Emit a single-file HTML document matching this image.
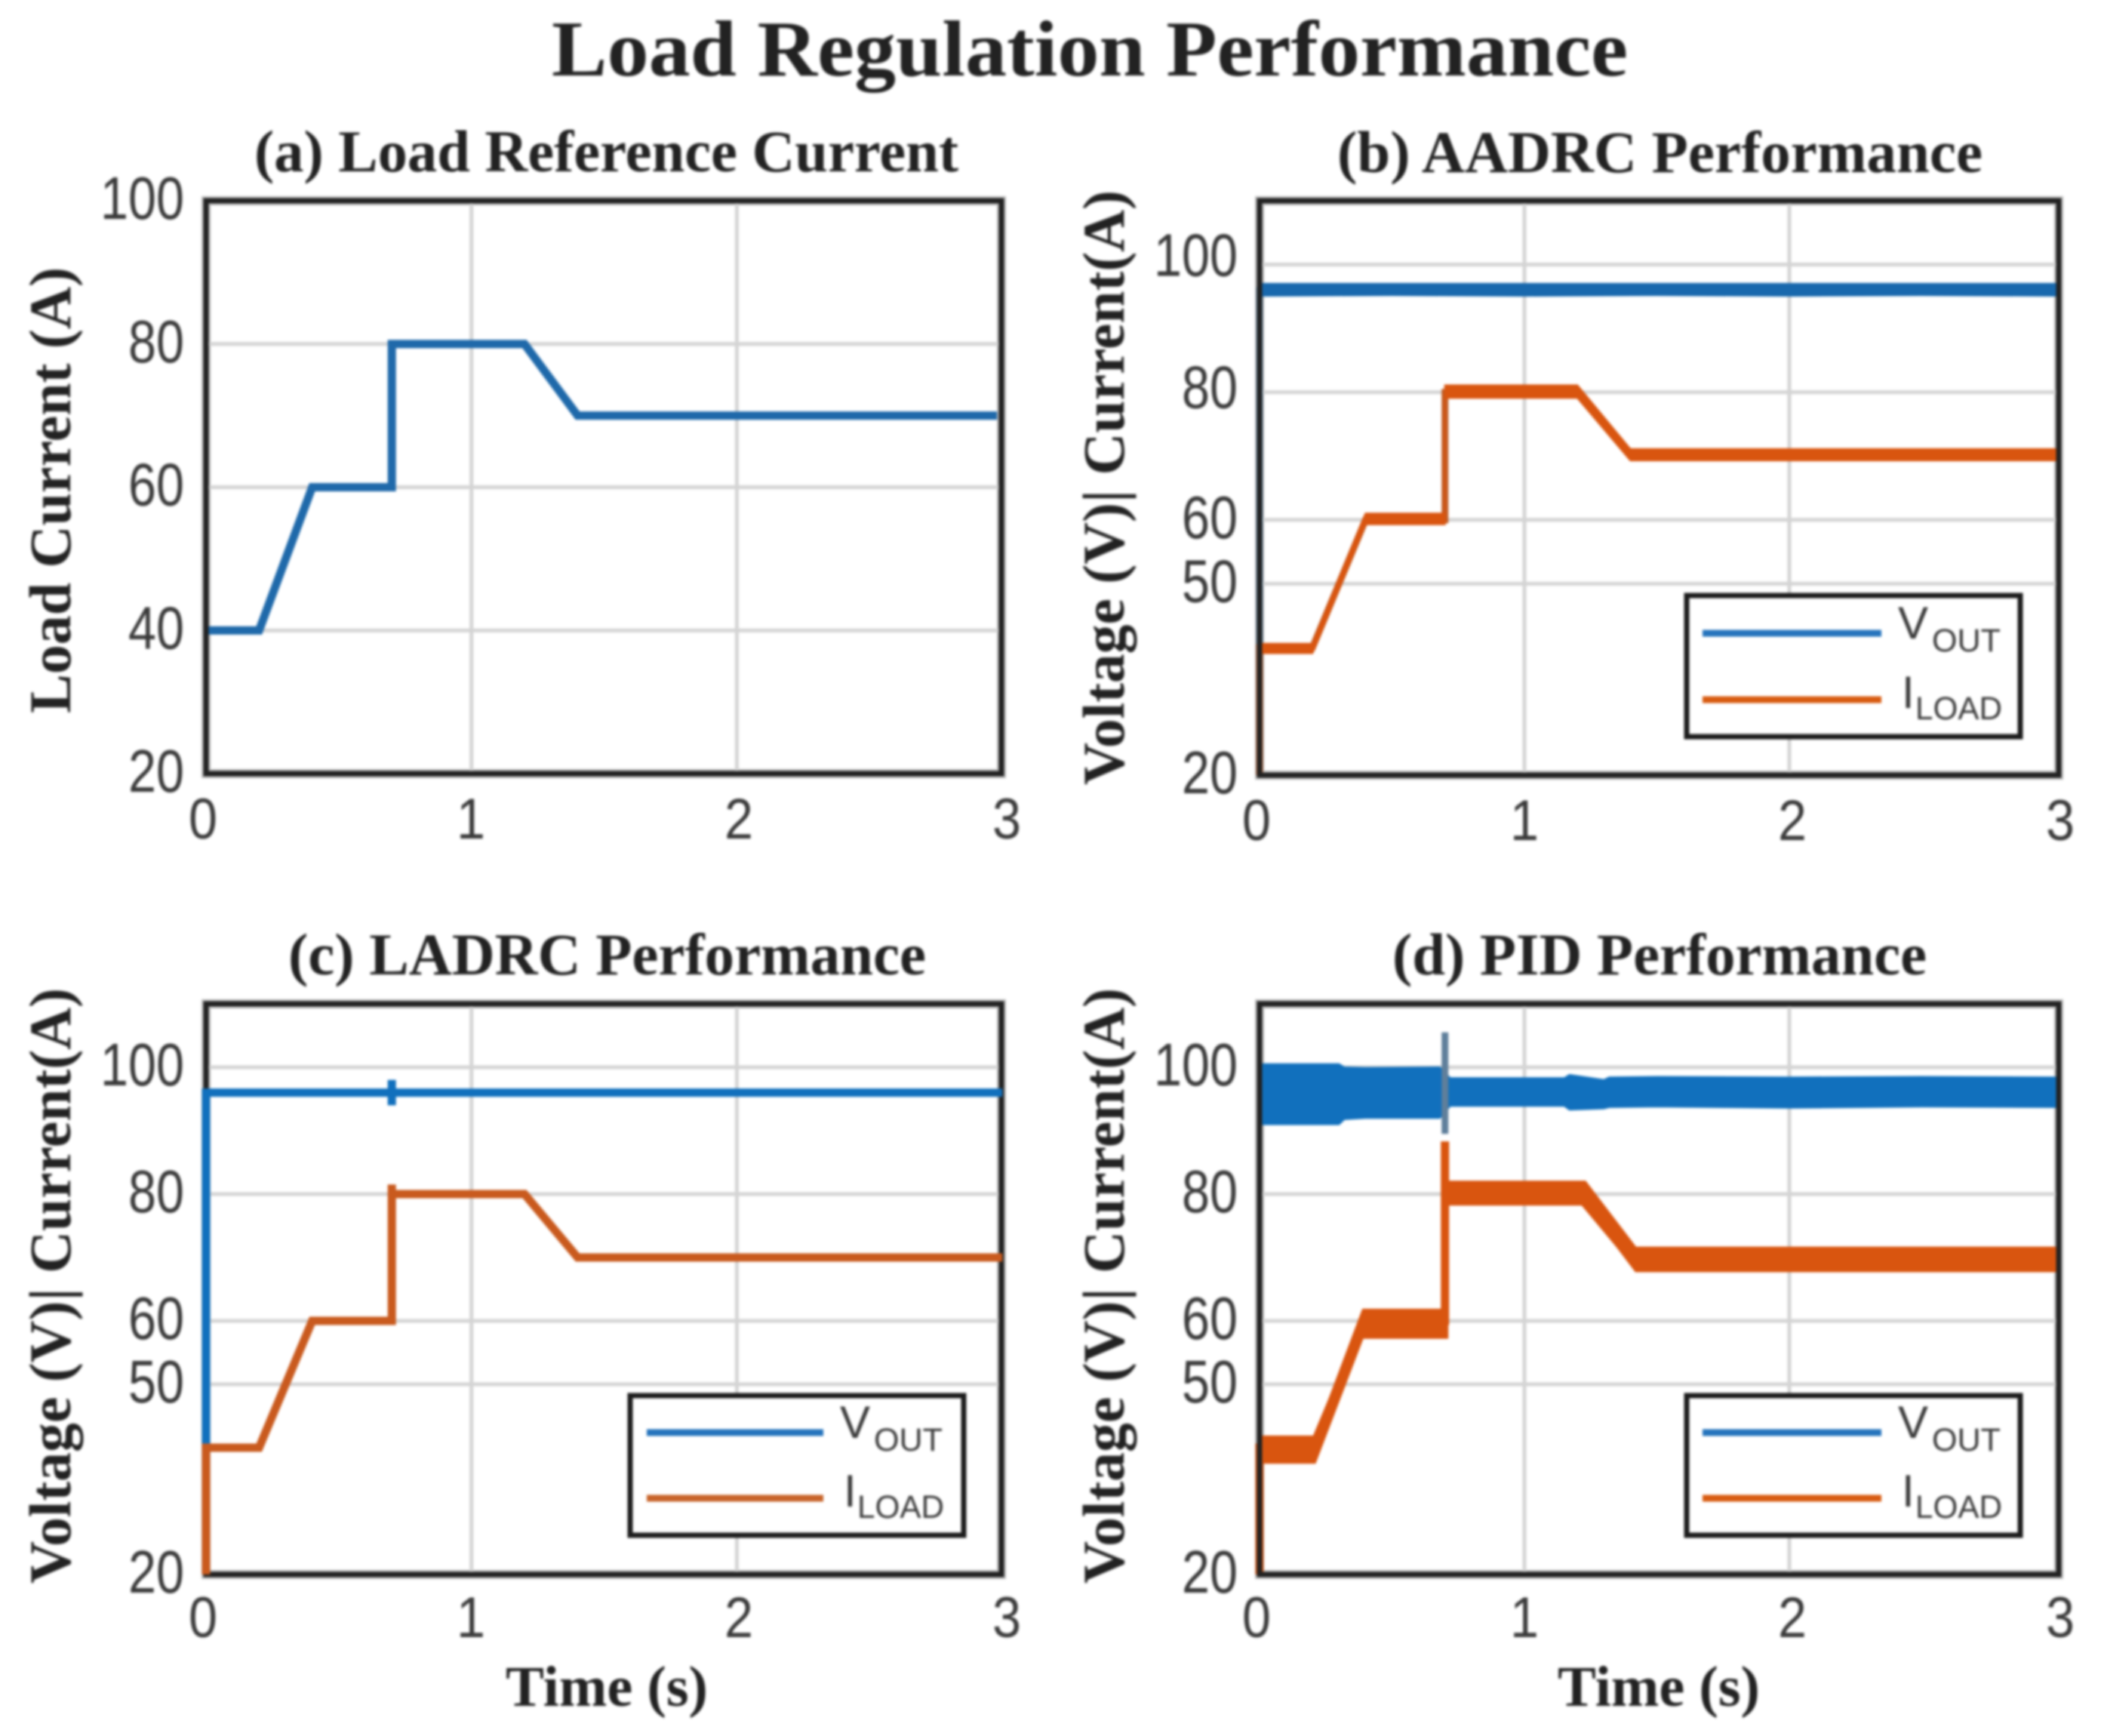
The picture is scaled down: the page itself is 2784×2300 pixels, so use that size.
<!DOCTYPE html>
<html lang="en">
<head>
<meta charset="utf-8">
<title>Load Regulation Performance</title>
<style>
html,body{margin:0;padding:0;background:#fff;width:2784px;height:2300px;overflow:hidden}
svg{display:block;filter:blur(1.5px)}
.serif{font-family:"Liberation Serif",serif;font-weight:700;fill:#222}
.sans{font-family:"Liberation Sans",sans-serif;fill:#3a3a3a}
.frame{fill:none;stroke:#222;stroke-width:7}
.halo{fill:none;stroke:#bbb;stroke-width:12}
.legend-box{fill:#fff;stroke:#1c1c1c;stroke-width:7}
</style>
</head>
<body>
<svg id="figure" xmlns="http://www.w3.org/2000/svg" width="2784" height="2300" viewBox="0 0 2784 2300">
  <rect width="2784" height="2300" fill="#fff"/>
  <text class="serif" x="731" y="100" font-size="105" textLength="1426" lengthAdjust="spacingAndGlyphs">Load Regulation Performance</text>

  <g id="panel-a">
    <text class="serif" x="337" y="227" font-size="78" textLength="933" lengthAdjust="spacingAndGlyphs">(a) Load Reference Current</text>
    <text class="serif" transform="translate(93,945) rotate(-90)" font-size="78" textLength="591" lengthAdjust="spacingAndGlyphs">Load Current (A)</text>
    <rect class="halo" x="273" y="266" width="1054" height="759"/>
    <g class="grid"></g>
    <g class="marks"></g>
    <rect class="frame" x="273" y="266" width="1054" height="759"/>
    <g class="ticks"></g>
  </g>

  <g id="panel-b">
    <text class="serif" x="1772" y="228" font-size="78" textLength="855" lengthAdjust="spacingAndGlyphs">(b) AADRC Performance</text>
    <text class="serif" transform="translate(1489,1040) rotate(-90)" font-size="78" textLength="788" lengthAdjust="spacingAndGlyphs">Voltage (V)| Current(A)</text>
    <rect class="halo" x="1669" y="266" width="1059" height="761"/>
    <g class="grid"></g>
    <g class="marks"></g>
    <rect class="frame" x="1669" y="266" width="1059" height="761"/>
    <g class="ticks"></g>
    <g>
      <rect class="legend-box" x="2235" y="789" width="442" height="187"/>
      <line x1="2256" y1="839" x2="2493" y2="839" stroke="#2574bd" stroke-width="9"/>
      <text class="sans" x="2515" y="846" font-size="60">V</text>
      <text class="sans" x="2560" y="863" font-size="43" textLength="91" lengthAdjust="spacingAndGlyphs">OUT</text>
      <line x1="2256" y1="927" x2="2493" y2="927" stroke="#d85c12" stroke-width="9"/>
      <text class="sans" x="2520" y="938" font-size="60">I</text>
      <text class="sans" x="2538" y="953" font-size="43" textLength="115" lengthAdjust="spacingAndGlyphs">LOAD</text>
    </g>
  </g>

  <g id="panel-c">
    <text class="serif" x="382" y="1291" font-size="78" textLength="845" lengthAdjust="spacingAndGlyphs">(c) LADRC Performance</text>
    <text class="serif" transform="translate(93,2098) rotate(-90)" font-size="78" textLength="789" lengthAdjust="spacingAndGlyphs">Voltage (V)| Current(A)</text>
    <text class="serif" x="670" y="2260" font-size="76" textLength="268" lengthAdjust="spacingAndGlyphs">Time (s)</text>
    <rect class="halo" x="273" y="1330" width="1054" height="756"/>
    <g class="grid"></g>
    <rect class="frame" x="273" y="1330" width="1054" height="756"/>
    <g class="marks"></g>
    <g class="ticks"></g>
    <g>
      <rect class="legend-box" x="835" y="1849" width="442" height="185"/>
      <line x1="857" y1="1898" x2="1091" y2="1898" stroke="#2574bd" stroke-width="9"/>
      <text class="sans" x="1113" y="1905" font-size="60">V</text>
      <text class="sans" x="1158" y="1922" font-size="43" textLength="91" lengthAdjust="spacingAndGlyphs">OUT</text>
      <line x1="857" y1="1985" x2="1091" y2="1985" stroke="#c8642a" stroke-width="9"/>
      <text class="sans" x="1118" y="1996" font-size="60">I</text>
      <text class="sans" x="1136" y="2011" font-size="43" textLength="115" lengthAdjust="spacingAndGlyphs">LOAD</text>
    </g>
  </g>

  <g id="panel-d">
    <text class="serif" x="1845" y="1291" font-size="78" textLength="708" lengthAdjust="spacingAndGlyphs">(d) PID Performance</text>
    <text class="serif" transform="translate(1489,2098) rotate(-90)" font-size="78" textLength="789" lengthAdjust="spacingAndGlyphs">Voltage (V)| Current(A)</text>
    <text class="serif" x="2064" y="2260" font-size="76" textLength="268" lengthAdjust="spacingAndGlyphs">Time (s)</text>
    <rect class="halo" x="1669" y="1330" width="1059" height="756"/>
    <g class="grid"></g>
    <g class="marks"></g>
    <rect class="frame" x="1669" y="1330" width="1059" height="756"/>
    <g class="ticks"></g>
    <g>
      <rect class="legend-box" x="2235" y="1849" width="442" height="185"/>
      <line x1="2256" y1="1898" x2="2493" y2="1898" stroke="#2574bd" stroke-width="9"/>
      <text class="sans" x="2515" y="1905" font-size="60">V</text>
      <text class="sans" x="2560" y="1922" font-size="43" textLength="91" lengthAdjust="spacingAndGlyphs">OUT</text>
      <line x1="2256" y1="1985" x2="2493" y2="1985" stroke="#d85c12" stroke-width="9"/>
      <text class="sans" x="2520" y="1996" font-size="60">I</text>
      <text class="sans" x="2538" y="2011" font-size="43" textLength="115" lengthAdjust="spacingAndGlyphs">LOAD</text>
    </g>
  </g>
</svg>

<script>
/* ---------- chart data ---------- */
const timeTicks = [0, 1, 2, 3];
const currentTicks = [20, 40, 60, 80, 100];
const voltageCurrentTicks = [20, 50, 60, 80, 100];

/* (a) load reference */
const refTime = [0, 0.2, 0.4, 0.7, 0.7, 1.2, 1.4, 2.98];
const refCurrent = [40, 40, 60, 60, 80, 80, 70, 70];

/* (b) AADRC */
const aadrcVoutTime = [0, 0, 3.02];
const aadrcVout = [20, 96, 96];
const aadrcVoutBandTime = [0, 0.5, 1, 1.5, 2, 2.5, 3.02];
const aadrcVoutUpper = [97, 97, 97, 97, 97, 97, 97];
const aadrcVoutLower = [95.1, 95.2, 95.1, 95.2, 95.1, 95.2, 95.1];
const aadrcIloadTime = [0, 0, 0.2, 0.4, 0.7, 0.7, 1.2, 1.4, 3.02];
const aadrcIload = [20, 40, 40, 60, 60, 80, 80, 70, 70];
const aadrcIloadBandTime = [0, 0.2, 0.4, 0.7, 0.7, 1.2, 1.4, 3.02];
const aadrcIloadUpper = [40.6, 40.6, 61, 61, 81.1, 81.1, 71.1, 71.1];
const aadrcIloadLower = [39.1, 39.1, 59.3, 59.3, 79.1, 79.1, 69.3, 69.3];

/* (c) LADRC */
const ladrcVoutTime = [0, 0, 0.7, 0.7, 0.7, 0.7, 3];
const ladrcVout = [20, 96, 96, 98, 94, 96, 96];
const ladrcIloadTime = [0, 0, 0.2, 0.4, 0.7, 0.7, 0.7, 1.2, 1.4, 3];
const ladrcIload = [20, 40, 40, 60, 60, 81.5, 80, 80, 70, 70];

/* (d) PID */
const pidVoutBandTime = [0, 0.3, 0.32, 0.4, 0.68, 0.72, 1.15, 1.17, 1.3, 1.32, 1.5, 2, 2.5, 3.02];
const pidVoutUpper = [100.5, 100.5, 100, 99.9, 100, 98.3, 98.3, 98.8, 98, 98.4, 98.5, 98.4, 98.5, 98.4];
const pidVoutLower = [91, 91, 91.8, 92, 92, 93.9, 93.9, 93.3, 93.5, 93.7, 93.8, 93.6, 93.8, 93.7];
const pidVoutSpikeTime = [0.7, 0.7];
const pidVoutSpike = [89.5, 105.5];
const pidIloadTime = [0, 0, 0.2, 0.4, 0.7, 0.7, 0.7, 1.2, 1.4, 3.02];
const pidIload = [20, 40, 40, 60, 60, 88.3, 80, 80, 70, 70];
const pidIloadBandTime = [0, 0.21, 0.39, 0.71, 0.71, 1.23, 1.42, 3.02];
const pidIloadUpper = [41.8, 41.8, 61.8, 61.8, 82, 82, 71.6, 71.6];
const pidIloadLower = [37.6, 37.6, 57.3, 57.3, 78.3, 78.3, 67.8, 67.8];

/* ---------- axis layout ---------- */
const SVG_NS = 'http://www.w3.org/2000/svg';
const panelA = { id: 'panel-a', key: 'a', left: 273, pxPerSecond: 351.7, right: 1327, top: 266, bottom: 1025, yMin: 20, yMax: 100, yTicks: currentTicks };
const panelB = { id: 'panel-b', key: 'b', left: 1669, pxPerSecond: 351, right: 2728, top: 266, bottom: 1027, yMin: 20, yMax: 110, yTicks: voltageCurrentTicks };
const panelC = { id: 'panel-c', key: 'c', left: 273, pxPerSecond: 351.7, right: 1327, top: 1330, bottom: 2086, yMin: 20, yMax: 110, yTicks: voltageCurrentTicks };
const panelD = { id: 'panel-d', key: 'd', left: 1669, pxPerSecond: 351, right: 2728, top: 1330, bottom: 2086, yMin: 20, yMax: 110, yTicks: voltageCurrentTicks };

function xScale(panel, t) {
  return panel.left + t * panel.pxPerSecond;
}
function yScale(panel, v) {
  return panel.bottom - ((v - panel.yMin) / (panel.yMax - panel.yMin)) * (panel.bottom - panel.top);
}
function xLabelPos(panel, t) {
  return panel.left - 4 + t * 355;
}
function yLabelNudge(panel, v) {
  if (panel.key === 'b' && v === 100) return -9;
  if (panel.key === 'b' && v === 80) return -3;
  return 0;
}
function layer(panel, cls) {
  return document.querySelector('#' + panel.id + ' .' + cls);
}

function drawAxes(panel) {
  const grid = layer(panel, 'grid');
  const ticks = layer(panel, 'ticks');
  timeTicks.forEach(function (t) {
    if (t > 0 && t < 3) {
      const g = document.createElementNS(SVG_NS, 'line');
      
      
      g.setAttribute('x1', xScale(panel, t));
      g.setAttribute('x2', xScale(panel, t));
      g.setAttribute('y1', panel.top);
      g.setAttribute('y2', panel.bottom);
      g.setAttribute('stroke', '#d4d4d4');
      g.setAttribute('stroke-width', '5');
      grid.appendChild(g);
    }
    const label = document.createElementNS(SVG_NS, 'text');
    
    
    label.setAttribute('class', 'sans');
    label.setAttribute('x', xLabelPos(panel, t));
    label.setAttribute('y', panel.bottom + (panel.top < 1000 ? 86 : 83));
    label.setAttribute('font-size', '76');
    label.setAttribute('text-anchor', 'middle');
    label.setAttribute('textLength', '38');
    label.setAttribute('lengthAdjust', 'spacingAndGlyphs');
    label.textContent = String(t);
    ticks.appendChild(label);
  });
  panel.yTicks.forEach(function (v) {
    if (v > panel.yMin && v < panel.yMax) {
      const g = document.createElementNS(SVG_NS, 'line');
      
      
      g.setAttribute('x1', panel.left);
      g.setAttribute('x2', panel.right);
      g.setAttribute('y1', yScale(panel, v));
      g.setAttribute('y2', yScale(panel, v));
      g.setAttribute('stroke', '#d4d4d4');
      g.setAttribute('stroke-width', '5');
      grid.appendChild(g);
    }
    const label = document.createElementNS(SVG_NS, 'text');
    
    
    label.setAttribute('class', 'sans');
    label.setAttribute('x', panel.left - 29);
    label.setAttribute('y', yScale(panel, v) + 24 + yLabelNudge(panel, v));
    label.setAttribute('font-size', '80');
    label.setAttribute('text-anchor', 'end');
    label.setAttribute('textLength', String(v).length * 37);
    label.setAttribute('lengthAdjust', 'spacingAndGlyphs');
    label.textContent = String(v);
    ticks.appendChild(label);
  });
}

function drawLine(panel, times, values, color, width, name) {
  const d = times.map(function (t, i) {
    return xScale(panel, t).toFixed(1) + ',' + yScale(panel, values[i]).toFixed(1);
  }).join(' ');
  const el = document.createElementNS(SVG_NS, 'polyline');
  
  
  el.setAttribute('points', d);
  el.setAttribute('fill', 'none');
  el.setAttribute('stroke', color);
  el.setAttribute('stroke-width', width);
  el.setAttribute('stroke-linejoin', 'miter');
  layer(panel, 'marks').appendChild(el);
}

function drawBand(panel, times, upper, lower, color, name) {
  const top = times.map(function (t, i) {
    return xScale(panel, t).toFixed(1) + ',' + yScale(panel, upper[i]).toFixed(1);
  });
  const bottom = times.map(function (t, i) {
    return xScale(panel, t).toFixed(1) + ',' + yScale(panel, lower[i]).toFixed(1);
  }).reverse();
  const el = document.createElementNS(SVG_NS, 'polygon');
  
  
  el.setAttribute('points', top.concat(bottom).join(' '));
  el.setAttribute('fill', color);
  el.setAttribute('stroke', color);
  el.setAttribute('stroke-width', '2');
  layer(panel, 'marks').appendChild(el);
}

/* ---------- draw ---------- */
const BLUE = '#1170bd';
const ORANGE = '#d9550f';

[panelA, panelB, panelC, panelD].forEach(drawAxes);

drawLine(panelA, refTime, refCurrent, '#1f69aa', 11, 'load-reference-line');

drawLine(panelB, aadrcVoutTime, aadrcVout, '#1c6aa8', 8, 'aadrc-vout-line');
drawBand(panelB, aadrcVoutBandTime, aadrcVoutUpper, aadrcVoutLower, '#1868ad', 'aadrc-vout-band');
drawLine(panelB, aadrcIloadTime, aadrcIload, '#c05a22', 9, 'aadrc-iload-line');
drawBand(panelB, aadrcIloadBandTime, aadrcIloadUpper, aadrcIloadLower, ORANGE, 'aadrc-iload-band');

drawLine(panelC, ladrcVoutTime, ladrcVout, BLUE, 11, 'ladrc-vout-line');
drawLine(panelC, ladrcIloadTime, ladrcIload, '#c95a1e', 11, 'ladrc-iload-line');

drawBand(panelD, pidVoutBandTime, pidVoutUpper, pidVoutLower, BLUE, 'pid-vout-band');
drawLine(panelD, pidVoutSpikeTime, pidVoutSpike, '#5f7f9b', 9, 'pid-vout-spike');
drawLine(panelD, pidIloadTime, pidIload, ORANGE, 11, 'pid-iload-line');
drawBand(panelD, pidIloadBandTime, pidIloadUpper, pidIloadLower, ORANGE, 'pid-iload-band');
</script>
</body>
</html>
